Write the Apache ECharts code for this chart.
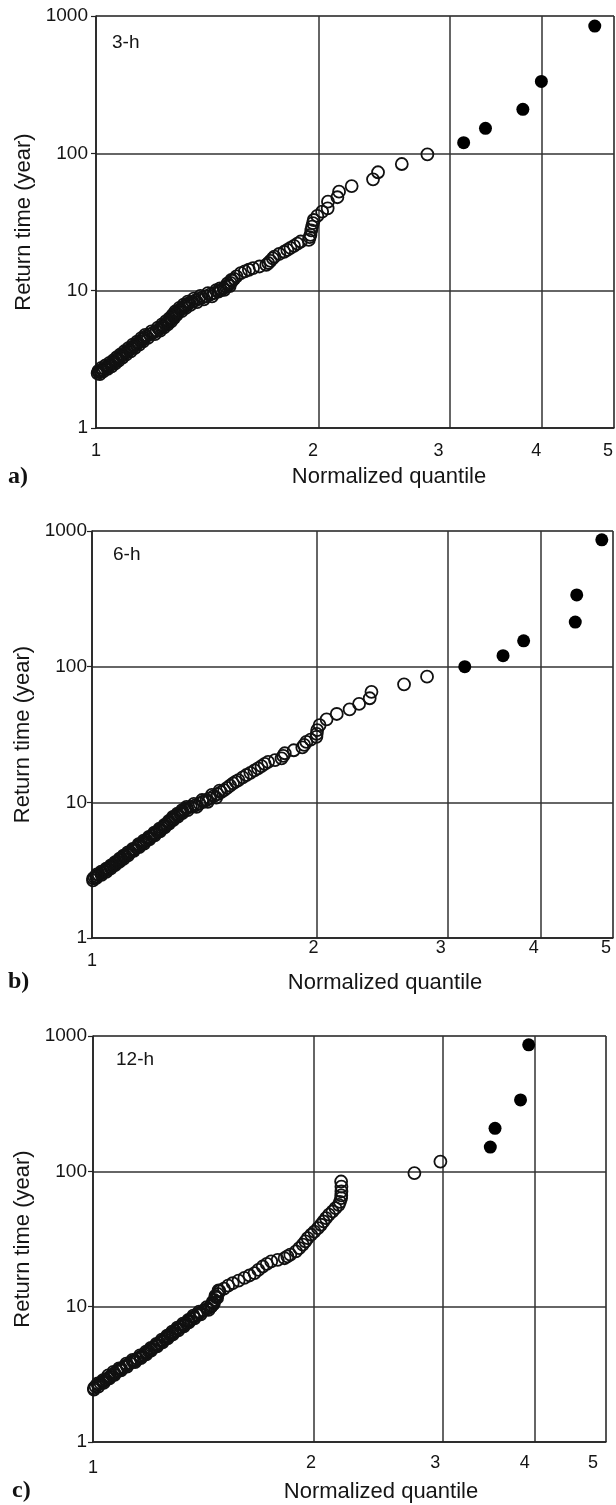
<!DOCTYPE html>
<html><head><meta charset="utf-8">
<script src="https://cdn.jsdelivr.net/npm/echarts@6/dist/echarts.min.js"></script>
<style>html,body{margin:0;padding:0;background:#fff}#c{width:616px;height:1505px}</style>
</head><body><div id="c"></div><script>
const xTicks = [1, 2, 3, 4, 5];
const panelLetters = ['a)', 'b)', 'c)'];
const durations = ['3-h', '6-h', '12-h'];
const xTitle = 'Normalized quantile';
const yTitle = 'Return time (year)';

// 3-h : open circles [normalized quantile, return time]
const open3h = [[2.80,98.4],[2.586,83.6],[2.402,72.8],[2.365,64.7],[2.213,57.8],[2.128,52.6],[2.117,47.9],[2.056,44.5],[2.054,39.8],[2.019,37.6],[1.989,35],[1.967,32.7],[1.962,31],[1.957,29.3],[1.952,27.5],[1.947,25.5],[1.942,24.5],[1.937,23.4],[1.889,22.8],[1.87,22],[1.85,21.2],[1.83,20.5],[1.812,19.8],[1.794,19.2],[1.767,18.5],[1.741,17.7],[1.732,17.2],[1.72,16.5],[1.708,15.9],[1.697,15.4],[1.662,15],[1.629,14.6],[1.608,14.2],[1.588,13.8],[1.568,13.4],[1.547,12.7],[1.536,12.2],[1.527,11.8],[1.519,11.4],[1.51,11],[1.497,10.7],[1.486,10.4],[1.474,10.1],[1.463,9.85],[1.444,9.6],[1.425,9.35],[1.407,9.1],[1.39,8.9],[1.376,8.7],[1.362,8.5],[1.348,8.3],[1.334,8.11],[1.326,7.9],[1.318,7.7],[1.309,7.5],[1.3,7.3],[1.292,7.1],[1.281,6.86],[1.277,6.7],[1.272,6.5],[1.266,6.3],[1.26,6.15],[1.254,6.0],[1.247,5.85],[1.24,5.7],[1.232,5.55],[1.225,5.4],[1.218,5.25],[1.207,5.1],[1.195,4.95],[1.182,4.8],[1.168,4.64],[1.162,4.52],[1.155,4.4],[1.148,4.28],[1.14,4.16],[1.133,4.05],[1.125,3.94],[1.118,3.83],[1.11,3.71],[1.103,3.62],[1.096,3.53],[1.089,3.44],[1.083,3.36],[1.076,3.27],[1.07,3.19],[1.065,3.12],[1.059,3.04],[1.054,2.97],[1.047,2.9],[1.04,2.84],[1.034,2.78],[1.027,2.72],[1.02,2.66],[1.015,2.6],[1.01,2.55],[1.005,2.5]];
// 3-h : further circles packed in the dense lower band (upper and lower edges of the band)
const band3h = [[1.523,12.0],[1.515,10.8],[1.505,11.3],[1.49,10.15],[1.47,10.4],[1.453,10.1],[1.434,9.1],[1.416,9.6],[1.398,8.65],[1.383,9.15],[1.369,8.26],[1.355,8.74],[1.341,7.87],[1.33,8.32],[1.322,7.49],[1.313,7.9],[1.305,7.1],[1.296,7.49],[1.286,6.7],[1.279,7.05],[1.275,6.34],[1.269,6.66],[1.263,5.97],[1.257,6.31],[1.25,5.68],[1.243,6.0],[1.236,5.4],[1.228,5.69],[1.221,5.11],[1.212,5.38],[1.201,4.82],[1.188,5.06],[1.175,4.53],[1.165,4.76],[1.158,4.28],[1.151,4.51],[1.144,4.05],[1.136,4.26],[1.129,3.84],[1.121,4.04],[1.114,3.62],[1.106,3.81],[1.099,3.43],[1.092,3.62],[1.086,3.26],[1.079,3.44],[1.073,3.1],[1.067,3.28],[1.062,2.96],[1.056,3.12],[1.05,2.81],[1.043,2.98],[1.037,2.7],[1.03,2.86],[1.023,2.58],[1.017,2.74],[1.012,2.47],[1.007,2.6]];
const filled3h = [[3.134,119.5],[3.354,152],[3.767,209],[3.99,334],[4.71,844]];

// 6-h
const open6h = [[2.815,84.4],[2.622,74.1],[2.371,65.3],[2.358,58.5],[2.282,53.1],[2.216,48.5],[2.13,44.8],[2.064,40.9],[2.02,37.1],[2.005,34.1],[2.002,32],[2.0,30.4],[1.965,29],[1.939,27.9],[1.926,26.5],[1.915,25.4],[1.865,24.2],[1.814,23],[1.805,22],[1.796,21.1],[1.76,20.5],[1.723,19.9],[1.705,19.2],[1.688,18.5],[1.67,17.8],[1.652,17.2],[1.631,16.5],[1.611,15.9],[1.593,15.3],[1.572,14.6],[1.559,14.2],[1.546,13.8],[1.532,13.3],[1.518,12.8],[1.504,12.3],[1.49,11.9],[1.474,11.5],[1.457,11.1],[1.438,10.7],[1.424,10.4],[1.409,10.1],[1.394,9.8],[1.376,9.5],[1.357,9.25],[1.339,9.02],[1.331,8.8],[1.322,8.55],[1.313,8.3],[1.303,8.05],[1.293,7.8],[1.284,7.6],[1.277,7.4],[1.269,7.15],[1.26,6.9],[1.252,6.7],[1.242,6.45],[1.233,6.24],[1.223,6.05],[1.213,5.85],[1.203,5.65],[1.193,5.45],[1.183,5.26],[1.174,5.1],[1.165,4.95],[1.156,4.8],[1.147,4.65],[1.138,4.5],[1.135,4.44],[1.126,4.3],[1.117,4.17],[1.109,4.05],[1.102,3.94],[1.095,3.84],[1.089,3.74],[1.081,3.64],[1.074,3.54],[1.067,3.44],[1.06,3.35],[1.052,3.25],[1.045,3.16],[1.037,3.08],[1.029,3.0],[1.021,2.93],[1.014,2.86],[1.008,2.8],[1.004,2.75]];
const band6h = [[1.483,12.2],[1.468,10.85],[1.448,11.35],[1.43,10.1],[1.405,10.4],[1.381,9.25],[1.37,9.75],[1.344,8.76],[1.339,9.25],[1.322,8.32],[1.321,8.76],[1.304,7.84],[1.302,8.24],[1.285,7.39],[1.284,7.8],[1.269,6.98],[1.268,7.3],[1.252,6.53],[1.251,6.83],[1.234,6.1],[1.232,6.39],[1.214,5.71],[1.212,5.98],[1.194,5.33],[1.192,5.56],[1.175,4.97],[1.173,5.22],[1.157,4.68],[1.155,4.91],[1.138,4.39],[1.134,4.54],[1.118,4.06],[1.117,4.27],[1.102,3.83],[1.102,4.05],[1.088,3.64],[1.089,3.84],[1.074,3.45],[1.074,3.63],[1.06,3.26],[1.06,3.43],[1.045,3.07],[1.045,3.24],[1.03,2.92],[1.029,3.08],[1.014,2.78],[1.015,2.94],[1.003,2.66]];
const filled6h = [[3.163,100],[3.56,120.6],[3.794,155],[4.45,213],[4.47,338],[4.83,861]];

// 12-h
const open12h = [[2.974,118],[2.741,97],[2.178,84.1],[2.18,77],[2.18,71],[2.179,66.5],[2.178,63.4],[2.17,59.5],[2.162,56.6],[2.14,53.5],[2.12,50.5],[2.097,47.8],[2.077,45.1],[2.061,42.6],[2.045,40.3],[2.025,38],[2.003,35.9],[1.983,34],[1.961,32.1],[1.947,30.4],[1.931,28.7],[1.91,27.1],[1.89,25.6],[1.857,24.2],[1.84,23.5],[1.824,22.8],[1.785,22.2],[1.749,21.6],[1.725,20.7],[1.703,19.8],[1.68,18.7],[1.66,17.7],[1.634,17],[1.608,16.3],[1.579,15.6],[1.55,14.9],[1.528,14.3],[1.508,13.6],[1.487,13],[1.479,12.4],[1.472,11.8],[1.464,11.2],[1.457,10.6],[1.452,10.2],[1.449,10],[1.434,9.7],[1.415,9.35],[1.397,8.97],[1.385,8.7],[1.372,8.4],[1.359,8.1],[1.351,7.83],[1.34,7.57],[1.328,7.32],[1.316,7.08],[1.305,6.85],[1.294,6.6],[1.284,6.38],[1.273,6.18],[1.263,5.98],[1.253,5.78],[1.243,5.58],[1.232,5.38],[1.222,5.2],[1.211,5.02],[1.2,4.85],[1.191,4.7],[1.182,4.54],[1.172,4.4],[1.161,4.26],[1.15,4.12],[1.14,4.0],[1.133,3.94],[1.123,3.82],[1.112,3.7],[1.101,3.58],[1.092,3.48],[1.087,3.42],[1.078,3.32],[1.07,3.22],[1.061,3.12],[1.054,3.03],[1.048,2.95],[1.042,2.88],[1.033,2.8],[1.024,2.72],[1.016,2.65],[1.008,2.58],[1.003,2.5]];
const band12h = [[1.483,13.2],[1.476,11.6],[1.468,12.0],[1.461,10.5],[1.455,10.8],[1.437,9.46],[1.428,9.9],[1.402,8.79],[1.395,9.18],[1.375,8.21],[1.37,8.58],[1.351,7.65],[1.349,8.0],[1.33,7.15],[1.326,7.49],[1.307,6.69],[1.303,6.99],[1.285,6.23],[1.282,6.53],[1.264,5.84],[1.262,6.12],[1.244,5.45],[1.241,5.7],[1.223,5.08],[1.22,5.31],[1.2,4.73],[1.199,4.96],[1.182,4.44],[1.181,4.65],[1.162,4.16],[1.159,4.36],[1.141,3.9],[1.132,4.04],[1.113,3.61],[1.11,3.79],[1.092,3.39],[1.085,3.5],[1.07,3.14],[1.066,3.3],[1.053,2.95],[1.049,3.11],[1.034,2.73],[1.032,2.87],[1.017,2.57],[1.015,2.71],[1.003,2.44]];
const filled12h = [[3.478,151],[3.53,208],[3.824,337],[3.923,860]];

const openSets = [open3h.concat(band3h), open6h.concat(band6h), open12h.concat(band12h)];
const filledSets = [filled3h, filled6h, filled12h];

// layout (pixels)
const grids = [
  {left: 96, top: 16, width: 525, height: 412},
  {left: 92, top: 531, width: 521, height: 407},
  {left: 93, top: 1036, width: 513, height: 406}
];
const yNameGap = [56, 53, 54];
const yLabelMargin = [8, 5, 6];
const xLabelMargin = [14, 1, 12];
const xLabelShift = [
  {1: 0, 2: 6, 3: 11, 4: 6, 5: 6},
  {1: 0, 2: 3, 3: 7, 4: 7, 5: 7},
  {1: 0, 2: 3, 3: 8, 4: 10, 5: 13}
];
const xLabelOneDrop = [0, 13, 5];
const xTitlePos = [[389, 477], [385, 983], [381, 1492]];
const letterPos = [[8, 477], [8, 982], [12, 1491]];
const durPos = [[112, 43], [113, 555], [116, 1060]];

const FONT = '"Liberation Sans", Arial, sans-serif';
const TXT = '#151515';

function richFor(i) {
  const r = {};
  xTicks.forEach(v => {
    const s = xLabelShift[i][v];
    r['s' + v] = {
      fontSize: 18, fontFamily: FONT, color: TXT,
      padding: [v === 1 ? xLabelOneDrop[i] : 0, 2 * s, 0, 0]
    };
  });
  return r;
}

const option = {
  animation: false,
  backgroundColor: '#fff',
  grid: grids.map(g => Object.assign({show: true, borderColor: '#777', borderWidth: 1, backgroundColor: 'rgba(0,0,0,0)'}, g)),
  xAxis: grids.map((g, i) => ({
    type: 'log', logBase: 10, gridIndex: i, min: 1, max: 5,
    axisLine: {show: true, lineStyle: {color: '#222', width: 1.5}},
    axisTick: {show: false, customValues: xTicks},
    axisLabel: {
      customValues: xTicks, margin: xLabelMargin[i],
      fontSize: 18, fontFamily: FONT, color: TXT,
      formatter: v => '{s' + Math.round(v) + '|' + Math.round(v) + '}',
      rich: richFor(i)
    },
    splitLine: {show: true, lineStyle: {color: '#333', width: 1.5}},
    minorTick: {show: false}, minorSplitLine: {show: false}
  })),
  yAxis: grids.map((g, i) => ({
    type: 'log', logBase: 10, gridIndex: i, min: 1, max: 1000,
    axisLine: {show: true, lineStyle: {color: '#222', width: 1.5}},
    axisTick: {show: true, length: 5, lineStyle: {color: '#222', width: 1.2}},
    axisLabel: {margin: yLabelMargin[i], fontSize: 19, fontFamily: FONT, color: TXT, formatter: v => String(v)},
    splitLine: {show: true, lineStyle: {color: '#333', width: 1.5}},
    name: yTitle, nameLocation: 'middle', nameGap: yNameGap[i],
    nameTextStyle: {fontSize: 22, fontFamily: FONT, color: TXT}
  })),
  series: [].concat(...grids.map((g, i) => [
    {
      type: 'scatter', xAxisIndex: i, yAxisIndex: i, symbol: 'circle', symbolSize: 12,
      itemStyle: {color: 'rgba(0,0,0,0)', borderColor: '#111', borderWidth: 1.8, opacity: 1},
      data: openSets[i], silent: true, clip: false
    },
    {
      type: 'scatter', xAxisIndex: i, yAxisIndex: i, symbol: 'circle', symbolSize: 13,
      itemStyle: {color: '#000', opacity: 1},
      data: filledSets[i], silent: true, clip: false
    }
  ])),
  graphic: [].concat(...grids.map((g, i) => [
    {type: 'text', x: xTitlePos[i][0], y: xTitlePos[i][1], silent: true,
     style: {text: xTitle, align: 'center', verticalAlign: 'middle', fontSize: 22, fontFamily: FONT, fill: TXT}},
    {type: 'text', x: letterPos[i][0], y: letterPos[i][1], silent: true,
     style: {text: panelLetters[i], align: 'left', verticalAlign: 'middle', fontSize: 24, fontWeight: 'bold', fontFamily: '"Liberation Serif", "Times New Roman", serif', fill: '#111'}},
    {type: 'text', x: durPos[i][0], y: durPos[i][1], silent: true,
     style: {text: durations[i], align: 'left', verticalAlign: 'middle', fontSize: 19, fontFamily: FONT, fill: TXT}}
  ]))
};

const chart = echarts.init(document.getElementById('c'), null, {renderer: 'canvas', width: 616, height: 1505});
chart.setOption(option);
</script></body></html>
